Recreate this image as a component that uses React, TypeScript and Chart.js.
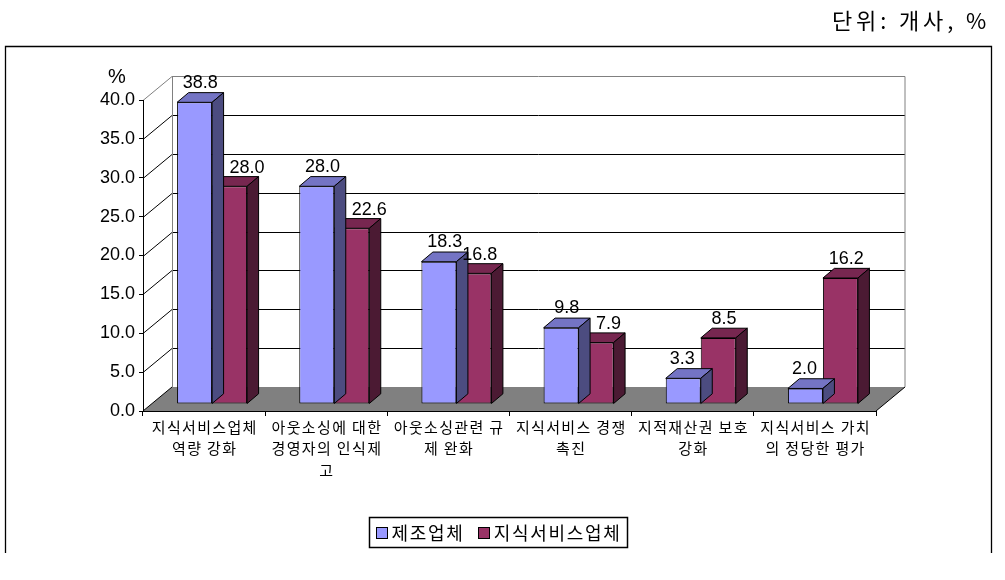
import React, { useEffect, useRef } from "react";
import { Chart, registerables } from "chart.js";

Chart.register(...registerables);

// ---------- data ----------
const categories: string[][] = [
  ["지식서비스업체", "역량 강화"],
  ["아웃소싱에 대한", "경영자의 인식제", "고"],
  ["아웃소싱관련 규", "제 완화"],
  ["지식서비스 경쟁", "촉진"],
  ["지적재산권 보호", "강화"],
  ["지식서비스 가치", "의 정당한 평가"],
];
const seriesNames = ["제조업체", "지식서비스업체"];
const manufacturing = [38.8, 28.0, 18.3, 9.8, 3.3, 2.0];
const knowledgeService = [28.0, 22.6, 16.8, 7.9, 8.5, 16.2];
const yMin = 0;
const yMax = 40;
const yStep = 5;
const unitText = "단위: 개사, %";
const yUnitText = "%";

// ---------- styles ----------
const KR = "'Noto Sans CJK KR', 'Noto Sans', sans-serif";
const NUM = "'Liberation Sans', Arial, sans-serif";
const faces = [
  { front: "#9999FF", top: "#7474C4", side: "#4C4C80" },
  { front: "#993366", top: "#772750", side: "#4B1A33" },
];
const BAR_OFF = { x: 8, y: -7 };
const BAR_DEPTH = { x: 11.5, y: -9.7 };
const WALL = { x: 29, y: -24 };

function setSpacing(ctx: any, px: number) {
  try {
    ctx.letterSpacing = `${px}px`;
  } catch (e) {}
}

function fitSpacing(ctx: any, text: string, target: number) {
  setSpacing(ctx, 0);
  const w = ctx.measureText(text).width;
  const n = Array.from(text).length;
  return Math.max(0, (target - w) / n);
}

const threeD = {
  id: "threeD",
  beforeDraw(chart: any) {
    const { ctx, chartArea: ca, scales } = chart;
    const ys = scales.y;
    const L = ca.left;
    const R = ca.right;
    const y0 = ys.getPixelForValue(yMin);
    const yT = ys.getPixelForValue(yMax);
    ctx.save();
    ctx.fillStyle = "#fff";
    ctx.fillRect(0, 0, chart.width, chart.height);
    // outer frame
    ctx.strokeStyle = "#000";
    ctx.lineWidth = 1.3;
    ctx.beginPath();
    ctx.moveTo(5.5, 553);
    ctx.lineTo(5.5, 46.5);
    ctx.lineTo(991.5, 46.5);
    ctx.lineTo(991.5, 553);
    ctx.stroke();
    ctx.lineWidth = 1;
    // floor
    ctx.fillStyle = "#808080";
    ctx.beginPath();
    ctx.moveTo(L, y0);
    ctx.lineTo(R, y0);
    ctx.lineTo(R + WALL.x, y0 + WALL.y);
    ctx.lineTo(L + WALL.x, y0 + WALL.y);
    ctx.closePath();
    ctx.fill();
    // grid lines on back and left walls
    for (let v = yMin + yStep; v < yMax; v += yStep) {
      const py = Math.round(ys.getPixelForValue(v)) + 0.5;
      ctx.strokeStyle = "#000";
      ctx.beginPath();
      ctx.moveTo(L + WALL.x, py + WALL.y);
      ctx.lineTo(R + WALL.x, py + WALL.y);
      ctx.moveTo(L, py);
      ctx.lineTo(L + WALL.x, py + WALL.y);
      ctx.stroke();
    }
    // wall outline (gray)
    const pyT = Math.round(yT) + 0.5;
    ctx.strokeStyle = "#808080";
    ctx.beginPath();
    ctx.moveTo(L, pyT);
    ctx.lineTo(L + WALL.x, pyT + WALL.y);
    ctx.lineTo(R + WALL.x, pyT + WALL.y);
    ctx.lineTo(R + WALL.x, y0 + WALL.y);
    ctx.moveTo(L + WALL.x + 0.5, pyT + WALL.y);
    ctx.lineTo(L + WALL.x + 0.5, y0 + WALL.y);
    ctx.stroke();
    // floor edges
    ctx.strokeStyle = "#000";
    ctx.beginPath();
    ctx.moveTo(R, y0);
    ctx.lineTo(R + WALL.x, y0 + WALL.y);
    ctx.moveTo(L, y0);
    ctx.lineTo(L + WALL.x, y0 + WALL.y);
    ctx.stroke();
    ctx.restore();
  },
  beforeDatasetsDraw(chart: any) {
    chart.ctx.save();
    chart.ctx.translate(BAR_OFF.x, BAR_OFF.y);
  },
  afterDatasetDraw(chart: any, args: any) {
    const { ctx } = chart;
    const f = faces[args.index];
    ctx.save();
    ctx.strokeStyle = "#000";
    ctx.lineWidth = 1;
    ctx.lineJoin = "round";
    args.meta.data.forEach((el: any) => {
      const { x, y, base, width } = el.getProps(["x", "y", "base", "width"], true);
      const l = x - width / 2;
      const r = x + width / 2;
      // top
      ctx.fillStyle = f.top;
      ctx.beginPath();
      ctx.moveTo(l, y);
      ctx.lineTo(r, y);
      ctx.lineTo(r + BAR_DEPTH.x, y + BAR_DEPTH.y);
      ctx.lineTo(l + BAR_DEPTH.x, y + BAR_DEPTH.y);
      ctx.closePath();
      ctx.fill();
      ctx.stroke();
      // side
      ctx.fillStyle = f.side;
      ctx.beginPath();
      ctx.moveTo(r, y);
      ctx.lineTo(r, base);
      ctx.lineTo(r + BAR_DEPTH.x, base + BAR_DEPTH.y);
      ctx.lineTo(r + BAR_DEPTH.x, y + BAR_DEPTH.y);
      ctx.closePath();
      ctx.fill();
      ctx.stroke();
    });
    ctx.restore();
  },
  afterDatasetsDraw(chart: any) {
    const { ctx } = chart;
    ctx.restore();
    ctx.save();
    ctx.fillStyle = "#000";
    ctx.font = `18px ${NUM}`;
    ctx.textAlign = "center";
    ctx.textBaseline = "alphabetic";
    const m0 = chart.getDatasetMeta(0);
    const m1 = chart.getDatasetMeta(1);
    const n = m0.data.length;
    for (let j = 0; j < n; j++) {
      const b = m0.data[j].getProps(["x", "y", "width"], true);
      const r = m1.data[j].getProps(["x", "y", "width"], true);
      const bl = b.x - b.width / 2 + BAR_OFF.x;
      const rl = r.x - r.width / 2 + BAR_OFF.x;
      const bTopBack = b.y + BAR_OFF.y + BAR_DEPTH.y;
      const rTopBack = r.y + BAR_OFF.y + BAR_DEPTH.y;
      // blue label
      const bText = manufacturing[j].toFixed(1);
      const bw = ctx.measureText(bText).width;
      let bx = bl + b.width / 2 + BAR_DEPTH.x / 2;
      const bBase = bTopBack - 5;
      if (rTopBack < bBase - 8) {
        const maxRight = rl - 6;
        if (bx + bw / 2 > maxRight) bx = maxRight - bw / 2;
      }
      ctx.fillText(bText, bx, bBase);
      // red label
      const rText = knowledgeService[j].toFixed(1);
      const rw = ctx.measureText(rText).width;
      let rx = rl + r.width / 2 + BAR_DEPTH.x / 2;
      const rBase = rTopBack - 4;
      if (bTopBack < rBase - 8) {
        const minLeft = rl + BAR_DEPTH.x + 6;
        if (rx - rw / 2 < minLeft) rx = minLeft + rw / 2;
      }
      ctx.fillText(rText, rx, rBase);
    }
    ctx.restore();
  },
  afterDraw(chart: any) {
    const { ctx, chartArea: ca, scales } = chart;
    ctx.save();
    ctx.fillStyle = "#000";
    // x category labels
    const xs = scales.x;
    ctx.font = `15px ${KR}`;
    ctx.textAlign = "center";
    ctx.textBaseline = "middle";
    const ls = fitSpacing(ctx, categories[0][0], 106);
    setSpacing(ctx, ls);
    const labels = chart.data.labels as string[][];
    labels.forEach((lines, i) => {
      const cx = xs.getPixelForTick(i) + ls / 2;
      lines.forEach((t, k) => {
        ctx.fillText(t, cx, ca.bottom + 16 + k * 21.5);
      });
    });
    setSpacing(ctx, 0);
    // unit above y axis
    ctx.font = `20px ${NUM}`;
    ctx.fillText(yUnitText, ca.left - 26, 77);
    // title
    ctx.font = `22px ${KR}`;
    ctx.textAlign = "right";
    const tls = fitSpacing(ctx, unitText, 158);
    setSpacing(ctx, tls);
    ctx.fillText(unitText, 990, 21);
    setSpacing(ctx, 0);
    // legend
    ctx.font = `18px ${KR}`;
    const lls = fitSpacing(ctx, seriesNames[1], 128);
    setSpacing(ctx, lls);
    const sq = 11;
    const gapSq = 5;
    const gapItem = 13;
    const widths = seriesNames.map((s) => ctx.measureText(s).width);
    const content =
      widths.reduce((a, w) => a + sq + gapSq + w, 0) + gapItem * (seriesNames.length - 1);
    const boxW = Math.round(content + 12);
    const boxX = Math.round(498 - boxW / 2) + 0.5;
    ctx.strokeStyle = "#000";
    ctx.lineWidth = 1.5;
    ctx.strokeRect(boxX, 517.5, boxW, 30);
    ctx.lineWidth = 1;
    let cx = boxX + 6;
    ctx.textAlign = "left";
    seriesNames.forEach((s, i) => {
      ctx.fillStyle = faces[i].front;
      ctx.fillRect(Math.round(cx) + 0.5, 527.5, sq, sq);
      ctx.strokeRect(Math.round(cx) + 0.5, 527.5, sq, sq);
      cx += sq + gapSq;
      ctx.fillStyle = "#000";
      ctx.fillText(s, cx, 533);
      cx += widths[i] + gapItem;
    });
    setSpacing(ctx, 0);
    ctx.restore();
  },
};

export default function App() {
  const ref = useRef<HTMLCanvasElement | null>(null);
  useEffect(() => {
    if (!ref.current) return;
    const mk = (i: number, data: number[]) => ({
      label: seriesNames[i],
      data,
      backgroundColor: faces[i].front,
      borderColor: "#000",
      borderWidth: 1,
      borderSkipped: false,
      categoryPercentage: 0.573,
      barPercentage: 1,
    });
    const chart = new Chart(ref.current, {
      type: "bar",
      data: {
        labels: categories,
        datasets: [mk(0, manufacturing), mk(1, knowledgeService)],
      },
      options: {
        responsive: false,
        animation: false,
        devicePixelRatio: 1,
        layout: { padding: { left: 0, right: 129, top: 100, bottom: 0 } },
        plugins: {
          legend: { display: false },
          tooltip: { enabled: false },
          title: { display: false },
        },
        scales: {
          x: {
            type: "category",
            grid: {
              offset: true,
              drawOnChartArea: false,
              drawTicks: true,
              tickLength: 5,
              color: "#000",
            },
            border: { display: true, color: "#000" },
            ticks: {
              display: false,
              autoSkip: false,
              maxRotation: 0,
              minRotation: 0,
            },
            afterFit: (s: any) => {
              s.height = 169;
            },
          },
          y: {
            min: yMin,
            max: yMax,
            ticks: {
              stepSize: yStep,
              color: "#000",
              font: { family: NUM, size: 18 },
              padding: 4,
              callback: (v: any) => Number(v).toFixed(1),
            },
            grid: { drawOnChartArea: false, tickLength: 4, color: "#000" },
            border: { display: true, color: "#000" },
            afterFit: (s: any) => {
              s.width = 143;
            },
          },
        },
      } as any,
      plugins: [threeD],
    });
    return () => chart.destroy();
  }, []);
  return (
    <div style={{ position: "absolute", left: 0, top: 0, width: 1005, height: 580, background: "#fff" }}>
      <canvas ref={ref} width={1005} height={580} style={{ display: "block" }} />
    </div>
  );
}
